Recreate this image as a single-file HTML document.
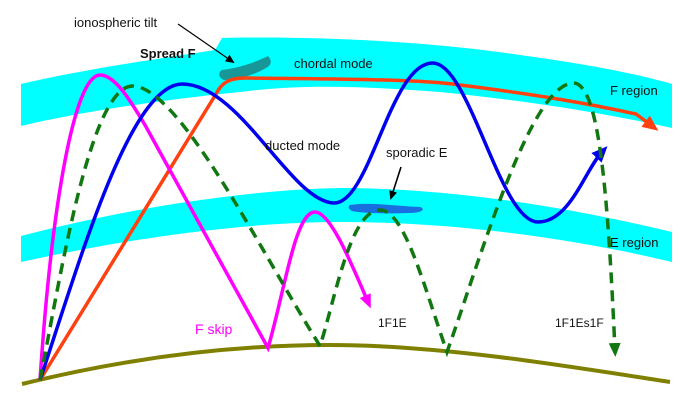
<!DOCTYPE html>
<html><head><meta charset="utf-8"><style>
html,body{margin:0;padding:0;background:#fff;}
svg{display:block;}
text{font-family:"Liberation Sans",sans-serif;font-size:13px;fill:#111;}
</style></head><body>
<svg width="692" height="405" viewBox="0 0 692 405" xmlns="http://www.w3.org/2000/svg">
<defs>
<marker id="ar" markerWidth="16" markerHeight="14" refX="8" refY="7" orient="auto" markerUnits="userSpaceOnUse"><path d="M0,0 L16,7 L0,14 z" fill="#ff4010"/></marker>
<marker id="ab" markerWidth="16" markerHeight="14" refX="8" refY="7" orient="auto" markerUnits="userSpaceOnUse"><path d="M0,0 L16,7 L0,14 z" fill="#0000ee"/></marker>
<marker id="am" markerWidth="14" markerHeight="12" refX="7" refY="6" orient="auto" markerUnits="userSpaceOnUse"><path d="M0,0 L14,6 L0,12 z" fill="#ff00ff"/></marker>
<marker id="ag" markerWidth="14" markerHeight="12" refX="7" refY="6" orient="auto" markerUnits="userSpaceOnUse"><path d="M0,0 L14,6 L0,12 z" fill="#117711"/></marker>
<marker id="ak" markerWidth="9" markerHeight="8" refX="7" refY="4" orient="auto" markerUnits="userSpaceOnUse"><path d="M0,0 L9,4 L0,8 z" fill="#000"/></marker>
</defs>
<path d="M21,84 C80,70 150,60 215,50 L222,38 C300,36 420,40 520,55 C600,66 640,75 672,84 L672,128 C600,112 520,100 440,92 C360,86 300,84 240,92 C160,100 80,112 21,126 Z" fill="#00ffff"/>
<path d="M21,236 C120,210 240,190 340,188 C460,188 580,210 672,232 L672,262 C580,240 460,222 340,222 C240,222 120,240 21,262 Z" fill="#00ffff"/>
<path d="M222,70 C240,68 256,62 268,56 C272,60 272,65 266,68 C252,76 236,80 224,80 C218,78 218,72 222,70 Z" fill="#1a8c8c" opacity="0.9"/>
<path d="M350,205 C370,202 395,206 420,207 C426,209 422,213 410,213 C385,214 360,213 352,211 C348,209 348,206 350,205 Z" fill="#1a6fe0"/>
<path d="M22,384 C140,355 240,345 330,345 C440,345 560,365 670,382" fill="none" stroke="#808000" stroke-width="4"/>
<path d="M40,380 L216,94 C222,82 230,78 245,78 C330,79 420,79 460,85 C540,95 590,104 636,114 L652,126" fill="none" stroke="#ff4010" stroke-width="3.5" marker-end="url(#ar)"/>
<path d="M40,380 C52,200 75,75 100,75 C115,75 130,100 145,125 L268,348 C285,290 295,212 315,212 C330,212 350,260 368,302" fill="none" stroke="#ff00ff" stroke-width="3.5" marker-end="url(#am)"/>
<path d="M40,380 C80,260 130,85 182,84 C240,84 290,200 333,203 C370,206 390,62 433,63 C470,64 500,222 538,222 C570,222 585,170 602,152" fill="none" stroke="#0000ee" stroke-width="3.5" marker-end="url(#ab)"/>
<path d="M40,380 C60,280 90,85 133,86 C180,88 260,250 320,346 C335,300 350,210 380,210 C405,210 425,290 447,352 C480,260 530,85 573,83 C600,82 608,200 615,350" fill="none" stroke="#117711" stroke-width="3.5" stroke-dasharray="11,7" marker-end="url(#ag)"/>
<line x1="178" y1="24" x2="233" y2="62" stroke="#000" stroke-width="1.2" marker-end="url(#ak)"/>
<line x1="401" y1="167" x2="391" y2="198" stroke="#000" stroke-width="1.6" marker-end="url(#ak)"/>
<text x="74" y="27">ionospheric tilt</text>
<text x="140" y="58" style="font-weight:bold;font-size:13px">Spread F</text>
<text x="294" y="68">chordal mode</text>
<text x="265" y="150">ducted mode</text>
<text x="386" y="157">sporadic E</text>
<text x="610" y="95">F region</text>
<text x="610" y="247">E region</text>
<text x="195" y="334" style="fill:#ff00ff;font-size:14px">F skip</text>
<text x="378" y="327" style="font-size:12px">1F1E</text>
<text x="555" y="327" style="font-size:12px">1F1Es1F</text>
</svg>
</body></html>
